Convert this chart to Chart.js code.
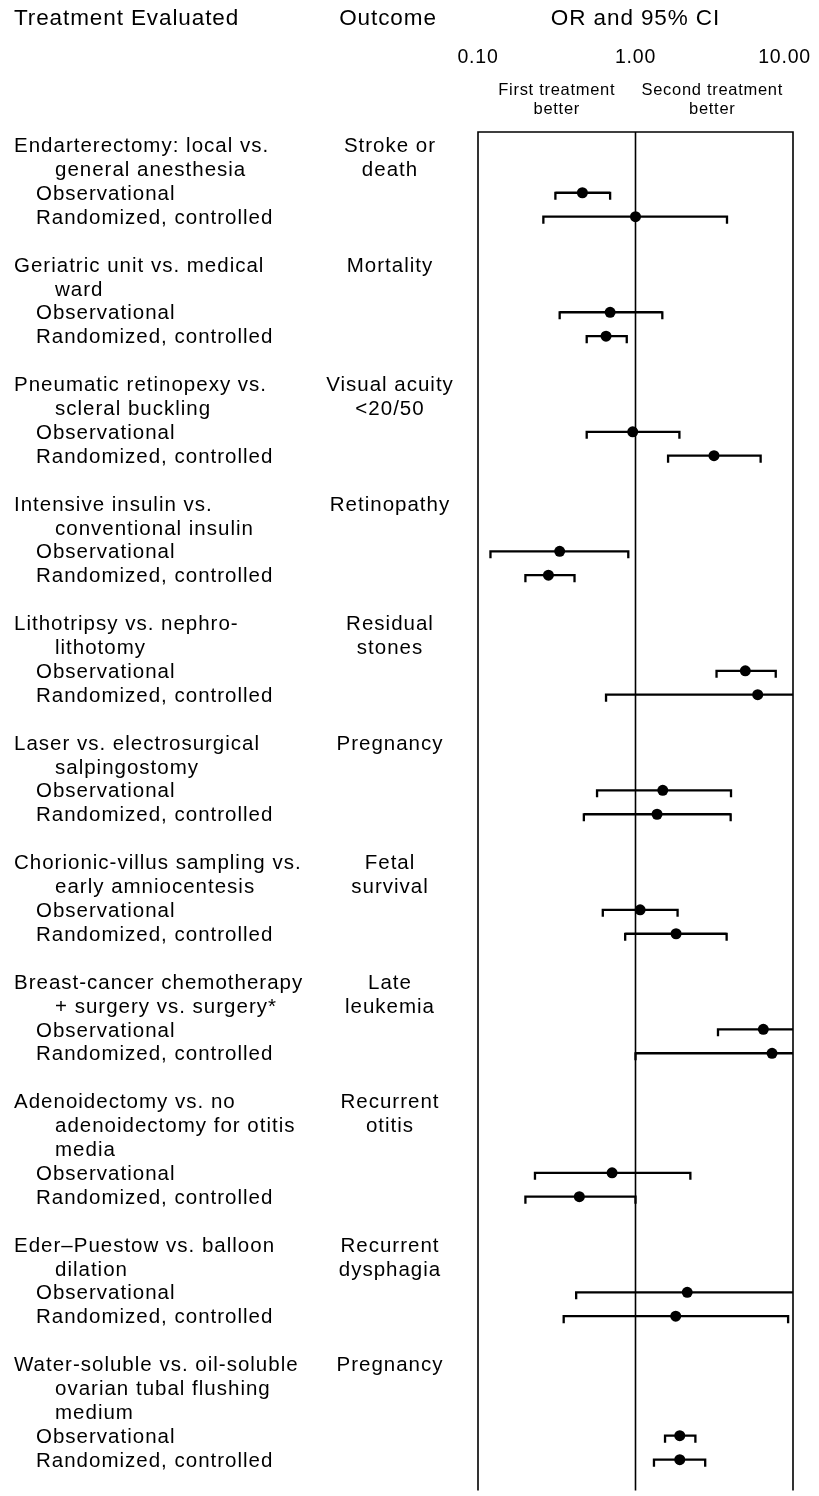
<!DOCTYPE html>
<html><head><meta charset="utf-8">
<script src="https://cdn.jsdelivr.net/npm/chart.js@4.4.1/dist/chart.umd.min.js"></script>
<style>html,body{margin:0;padding:0;background:#fff}#wrap{width:819px;height:1496px;position:relative}</style>
</head><body><div id="wrap"><canvas id="c" width="819" height="1496"></canvas></div>
<script>
// ---- data ----
const treatments = [
  ["Endarterectomy: local vs.", "general anesthesia"],
  ["Geriatric unit vs. medical", "ward"],
  ["Pneumatic retinopexy vs.", "scleral buckling"],
  ["Intensive insulin vs.", "conventional insulin"],
  ["Lithotripsy vs. nephro-", "lithotomy"],
  ["Laser vs. electrosurgical", "salpingostomy"],
  ["Chorionic-villus sampling vs.", "early amniocentesis"],
  ["Breast-cancer chemotherapy", "+ surgery vs. surgery*"],
  ["Adenoidectomy vs. no", "adenoidectomy for otitis", "media"],
  ["Eder\u2013Puestow vs. balloon", "dilation"],
  ["Water-soluble vs. oil-soluble", "ovarian tubal flushing", "medium"]
];
const outcomes = [
  ["Stroke or", "death"],
  ["Mortality"],
  ["Visual acuity", "<20/50"],
  ["Retinopathy"],
  ["Residual", "stones"],
  ["Pregnancy"],
  ["Fetal", "survival"],
  ["Late", "leukemia"],
  ["Recurrent", "otitis"],
  ["Recurrent", "dysphagia"],
  ["Pregnancy"]
];
const designLabels = ["Observational", "Randomized, controlled"];
// odds ratios with 95% CI (values above 10 run off the axis)
const obsOR   = [0.46, 0.69, 0.96, 0.33, 4.98, 1.49, 1.07, 6.48, 0.71, 2.13, 1.91];
const obsLow  = [0.31, 0.33, 0.49, 0.12, 3.27, 0.57, 0.62, 3.34, 0.23, 0.42, 1.54];
const obsHigh = [0.69, 1.48, 1.90, 0.90, 7.77, 4.04, 1.85, 12.0, 2.23, 12.0, 2.40];
const rctOR   = [1.00, 0.65, 3.15, 0.28, 5.97, 1.37, 1.81, 7.36, 0.44, 1.80, 1.91];
const rctLow  = [0.26, 0.49, 1.61, 0.20, 0.65, 0.47, 0.86, 1.00, 0.20, 0.35, 1.31];
const rctHigh = [3.81, 0.88, 6.23, 0.41, 12.0, 4.02, 3.79, 12.0, 1.00, 9.31, 2.77];
const tickValues = [0.1, 1, 10];
const tickLabels = ["0.10", "1.00", "10.00"];
const headers = ["Treatment Evaluated", "Outcome", "OR and 95% CI"];
const sideLabels = [["First treatment", "better"], ["Second treatment", "better"]];

// ---- layout of text lines (line index per row) ----
const groupStart = [], obsLine = [], rctLine = [];
let cur = 0;
treatments.forEach((t) => {
  groupStart.push(cur);
  obsLine.push(cur + t.length);
  rctLine.push(cur + t.length + 1);
  cur += t.length + 3;
});

const FONT = '"Liberation Sans", Arial, sans-serif';

const forestPlugin = {
  id: 'forest',
  beforeDatasetsDraw(chart) {
    const ctx = chart.ctx, xs = chart.scales.x, ys = chart.scales.y, a = chart.chartArea;
    const xMin = xs.min, xMax = xs.max;
    ctx.save();
    // frame
    ctx.strokeStyle = '#000';
    ctx.lineWidth = 1.6;
    const xl = xs.getPixelForValue(xMin), xr = xs.getPixelForValue(xMax), xc = xs.getPixelForValue(1);
    ctx.beginPath();
    ctx.moveTo(xl, a.bottom); ctx.lineTo(xl, a.top); ctx.lineTo(xr, a.top); ctx.lineTo(xr, a.bottom);
    ctx.moveTo(xc, a.top); ctx.lineTo(xc, a.bottom);
    ctx.stroke();
    // CI bars
    ctx.lineWidth = 2.3;
    ctx.lineCap = 'butt';
    const drawCI = (lo, hi, line) => {
      const y = ys.getPixelForValue(line);
      const p1 = xs.getPixelForValue(Math.max(lo, xMin));
      const p2 = xs.getPixelForValue(Math.min(hi, xMax));
      ctx.beginPath();
      ctx.moveTo(p1, y); ctx.lineTo(p2, y);
      if (lo >= xMin) { ctx.moveTo(p1, y - 1.1); ctx.lineTo(p1, y + 7); }
      if (hi <= xMax) { ctx.moveTo(p2, y - 1.1); ctx.lineTo(p2, y + 7); }
      ctx.stroke();
    };
    for (let i = 0; i < obsOR.length; i++) {
      drawCI(obsLow[i], obsHigh[i], obsLine[i]);
      drawCI(rctLow[i], rctHigh[i], rctLine[i]);
    }
    ctx.restore();
  },
  afterDraw(chart) {
    const ctx = chart.ctx, xs = chart.scales.x, ys = chart.scales.y;
    ctx.save();
    ctx.fillStyle = '#000';
    ctx.textBaseline = 'middle';
    const setFont = (size, ls) => { ctx.font = size + 'px ' + FONT; if ('letterSpacing' in ctx) ctx.letterSpacing = ls + 'px'; };
    // headers
    setFont(22.5, 0.9);
    ctx.textAlign = 'left';
    ctx.fillText(headers[0], 14, 19);
    ctx.textAlign = 'center';
    ctx.fillText(headers[1], 388, 19);
    ctx.fillText(headers[2], xs.getPixelForValue(1), 19);
    // tick labels
    setFont(19.5, 0.8);
    tickValues.forEach((v, i) => {
      ctx.textAlign = 'center';
      let px = xs.getPixelForValue(v);
      const w = ctx.measureText(tickLabels[i]).width;
      if (px + w / 2 > chart.width - 8) px = chart.width - 8 - w / 2;
      ctx.fillText(tickLabels[i], px, 58);
    });
    // direction labels
    setFont(16.5, 0.7);
    const cL = (xs.getPixelForValue(0.1) + xs.getPixelForValue(1)) / 2;
    const cR = (xs.getPixelForValue(1) + xs.getPixelForValue(10)) / 2 - 2;
    sideLabels[0].forEach((t, k) => ctx.fillText(t, cL, 90 + k * 19));
    sideLabels[1].forEach((t, k) => ctx.fillText(t, cR, 90 + k * 19));
    // row labels
    setFont(20.5, 1.0);
    const dy = 1.5;
    treatments.forEach((lines, i) => {
      lines.forEach((t, k) => {
        ctx.textAlign = 'left';
        ctx.fillText(t, k === 0 ? 14 : 55, ys.getPixelForValue(groupStart[i] + k) + dy);
      });
      outcomes[i].forEach((t, k) => {
        ctx.textAlign = 'center';
        ctx.fillText(t, 390, ys.getPixelForValue(groupStart[i] + k) + dy);
      });
      ctx.textAlign = 'left';
      ctx.fillText(designLabels[0], 36, ys.getPixelForValue(obsLine[i]) + dy);
      ctx.fillText(designLabels[1], 36, ys.getPixelForValue(rctLine[i]) + dy);
    });
    ctx.restore();
  }
};

const pts = (or, lines) => or.map((v, i) => ({ x: v, y: lines[i] }));

new Chart(document.getElementById('c'), {
  type: 'scatter',
  data: {
    datasets: [
      { label: designLabels[0], data: pts(obsOR, obsLine), pointRadius: 5.5, pointBackgroundColor: '#000', pointBorderWidth: 0, borderWidth: 0 },
      { label: designLabels[1], data: pts(rctOR, rctLine), pointRadius: 5.5, pointBackgroundColor: '#000', pointBorderWidth: 0, borderWidth: 0 }
    ]
  },
  options: {
    responsive: false,
    animation: false,
    devicePixelRatio: 1,
    layout: { padding: { left: 478, right: 26, top: 132, bottom: 0 } },
    scales: {
      x: { type: 'logarithmic', min: tickValues[0], max: tickValues[2], display: false },
      y: { type: 'linear', min: -13 / 24, max: 1351 / 24, reverse: true, display: false }
    },
    plugins: { legend: { display: false }, tooltip: { enabled: false } },
    events: []
  },
  plugins: [forestPlugin]
});
</script></body></html>
